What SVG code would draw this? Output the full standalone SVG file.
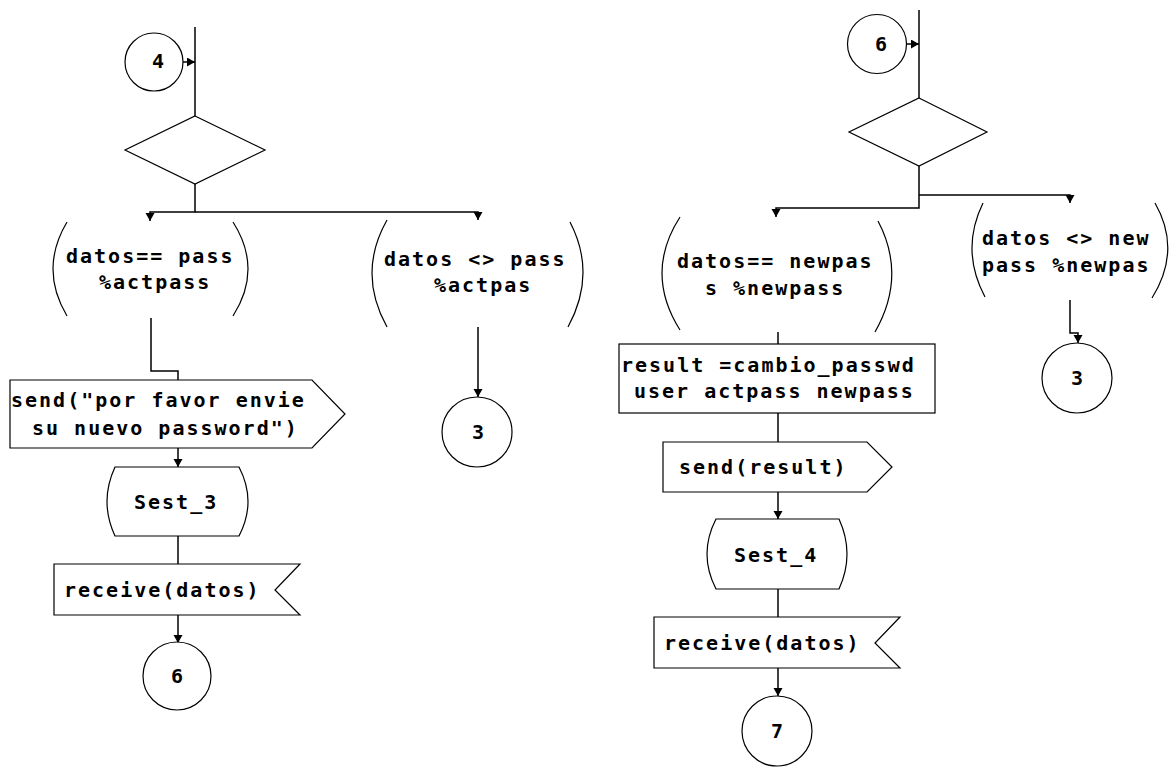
<svg xmlns="http://www.w3.org/2000/svg" width="1176" height="775" viewBox="0 0 1176 775">
<style>
.s{fill:#fff;stroke:#000;stroke-width:1.2}
.p{fill:none;stroke:#000;stroke-width:1.2}
.c{fill:none;stroke:#000;stroke-width:1.5}
.t{font-family:"DejaVu Sans Mono","Liberation Mono",monospace;font-weight:bold;font-size:20px;letter-spacing:2px;fill:#000}
.d{font-family:"DejaVu Sans Mono","Liberation Mono",monospace;font-weight:bold;font-size:20px;fill:#000;text-anchor:middle}
</style>
<defs>
<marker id="ah" markerUnits="userSpaceOnUse" markerWidth="10" markerHeight="10" refX="8" refY="4.5" orient="auto">
<path d="M0,0 L8,4.5 L0,9 Z" fill="#000"/>
</marker>
</defs>
<rect width="1176" height="775" fill="#fff"/>
<g id="connectors">
<path class="c" d="M195,27 V116"/>
<path class="c" d="M183,62 H195" marker-end="url(#ah)"/>
<path class="c" d="M195,184 V212 H150 V221" marker-end="url(#ah)"/>
<path class="c" d="M195,212 H478 V220" marker-end="url(#ah)"/>
<path class="c" d="M151,318 V371 H178 V380"/>
<path class="c" d="M178,448 V467" marker-end="url(#ah)"/>
<path class="c" d="M178,536 V564"/>
<path class="c" d="M178,615 V643" marker-end="url(#ah)"/>
<path class="c" d="M478,327 V397" marker-end="url(#ah)"/>
<path class="c" d="M919,10 V98"/>
<path class="c" d="M906,44 H919" marker-end="url(#ah)"/>
<path class="c" d="M919,166 V208 H776 V217" marker-end="url(#ah)"/>
<path class="c" d="M919,195 H1070 V203" marker-end="url(#ah)"/>
<path class="c" d="M778,332 V344"/>
<path class="c" d="M778,413 V442"/>
<path class="c" d="M778,492 V519" marker-end="url(#ah)"/>
<path class="c" d="M778,589 V617"/>
<path class="c" d="M778,668 V696" marker-end="url(#ah)"/>
<path class="c" d="M1070,300 V333 H1078 V343" marker-end="url(#ah)"/>
</g>
<g id="conn4">
<circle class="s" cx="154" cy="62" r="29"/>
<text class="d" x="158" y="68">4</text>
</g>
<g id="dec1">
<polygon class="s" points="195,116 265,150 195,184 125,150"/>
</g>
<g id="cond1">
<path class="p" d="M67,222 Q39,269 67,316"/>
<path class="p" d="M233,222 Q263,269 233,316"/>
<text class="t" x="66" y="263">datos== pass</text>
<text class="t" x="99" y="289">%actpass</text>
</g>
<g id="cond2">
<path class="p" d="M387,220 Q357,273 387,327"/>
<path class="p" d="M570,222 Q597,274 568,327"/>
<text class="t" x="384" y="266">datos &lt;&gt; pass</text>
<text class="t" x="434" y="292">%actpas</text>
</g>
<g id="conn3a">
<circle class="s" cx="477" cy="432" r="35"/>
<text class="d" x="478" y="439">3</text>
</g>
<g id="send1">
<polygon class="s" points="10,380 312,380 345,414 312,448 10,448"/>
<text class="t" x="11" y="407">send("por favor envie</text>
<text class="t" x="32" y="435">su nuevo password")</text>
</g>
<g id="sest3">
<path class="s" d="M115,467 H239 Q257,501.5 239,536 H115 Q99,501.5 115,467 Z"/>
<text class="t" x="134" y="509">Sest_3</text>
</g>
<g id="recv1">
<polygon class="s" points="54,564 300,564 275,590 300,615 54,615"/>
<text class="t" x="64" y="597">receive(datos)</text>
</g>
<g id="conn6b">
<circle class="s" cx="177" cy="676" r="34"/>
<text class="d" x="177" y="683">6</text>
</g>
<g id="conn6a">
<circle class="s" cx="877" cy="44" r="29.5"/>
<text class="d" x="881" y="51">6</text>
</g>
<g id="dec2">
<polygon class="s" points="919,98 987,132 919,166 849,132"/>
</g>
<g id="cond3">
<path class="p" d="M680,217 Q644,273 680,330"/>
<path class="p" d="M878,221 Q907,276 875,332"/>
<text class="t" x="677" y="268">datos== newpas</text>
<text class="t" x="705" y="295">s %newpass</text>
</g>
<g id="cond4">
<path class="p" d="M983,203 Q960,250 985,297"/>
<path class="p" d="M1155,203 Q1182,250 1152,298"/>
<text class="t" x="982" y="245">datos &lt;&gt; new</text>
<text class="t" x="982" y="272">pass %newpas</text>
</g>
<g id="conn3b">
<circle class="s" cx="1077" cy="378" r="35"/>
<text class="d" x="1077" y="385">3</text>
</g>
<g id="task1">
<rect class="s" x="619" y="344" width="316" height="69"/>
<text class="t" x="621" y="372">result =cambio_passwd</text>
<text class="t" x="634" y="398">user actpass newpass</text>
</g>
<g id="send2">
<polygon class="s" points="663,442 867,442 892,467 867,492 663,492"/>
<text class="t" x="679" y="474">send(result)</text>
</g>
<g id="sest4">
<path class="s" d="M716,519 H839 Q855,554 839,589 H716 Q698,554 716,519 Z"/>
<text class="t" x="734" y="562">Sest_4</text>
</g>
<g id="recv2">
<polygon class="s" points="654,617 900,617 875,643 900,668 654,668"/>
<text class="t" x="664" y="650">receive(datos)</text>
</g>
<g id="conn7">
<circle class="s" cx="777" cy="731" r="35"/>
<text class="d" x="777" y="738">7</text>
</g>
</svg>
